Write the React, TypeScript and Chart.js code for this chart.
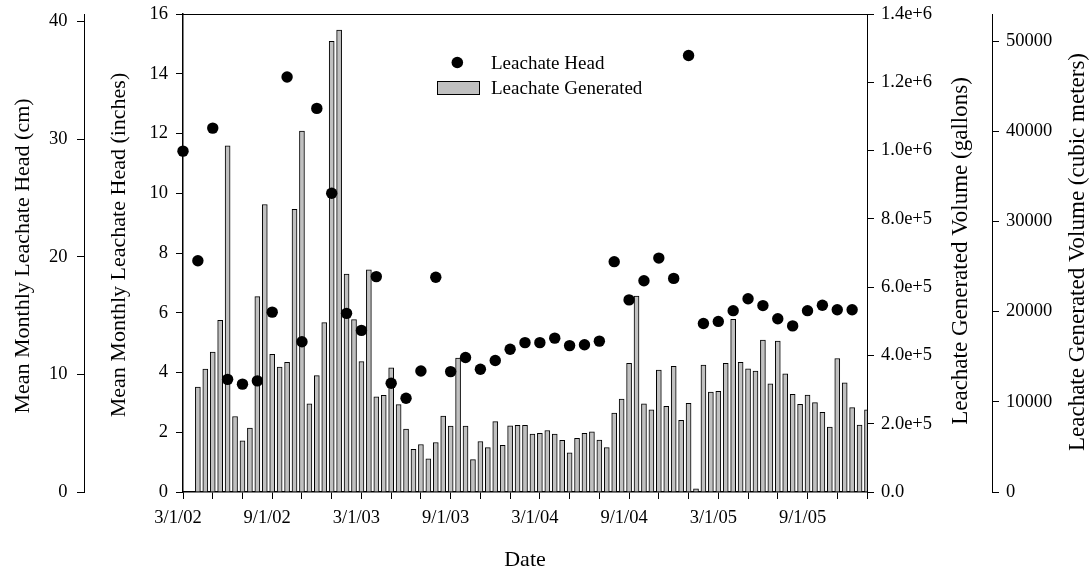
import React, { useEffect, useRef } from 'react';
import { Chart, registerables } from 'chart.js';

Chart.register(...registerables);

// x is measured in months since 3/1/02
const HEAD_START_MONTH = 0; // 3/1/02, monthly
const HEAD_IN = [
  11.41, 7.74, 12.18, 3.77, 3.61, 3.72, 6.02, 13.89, 5.03, 12.84,
  10.0, 5.98, 5.41, 7.21, 3.64, 3.14, 4.05, 7.19, 4.03, 4.5,
  4.11, 4.4, 4.78, 5.0, 5.0, 5.15, 4.9, 4.93, 5.05, 7.71,
  6.43, 7.07, 7.83, 7.15, 14.61, 5.64, 5.71, 6.07, 6.47, 6.24,
  5.8, 5.56, 6.07, 6.25, 6.1, 6.1,
];

const LEACHATE_START_MONTH = 1; // 4/1/02, twice a month
const LEACHATE_STEP = 0.5;
const LEACHATE_GAL = [
  307000, 360000, 410000, 503000, 1014000, 221000, 150000, 187000, 572000, 842000,
  403000, 366000, 380000, 828000, 1057000, 258000, 341000, 496000, 1320000, 1353000,
  638000, 505000, 382000, 651000, 279000, 283000, 364000, 256000, 184000, 125000,
  139000, 97000, 145000, 222000, 193000, 392000, 193000, 95000, 148000, 130000,
  206000, 137000, 194000, 195000, 195000, 170000, 172000, 180000, 170000, 151000,
  115000, 157000, 172000, 176000, 152000, 130000, 231000, 272000, 377000, 574000,
  258000, 241000, 357000, 251000, 368000, 210000, 260000, 9000, 372000, 293000,
  295000, 377000, 506000, 380000, 361000, 354000, 445000, 317000, 442000, 346000,
  286000, 257000, 284000, 262000, 233000, 190000, 391000, 320000, 247000, 196000,
  241000,
];

const X_MAX_MONTH = 46; // 1/1/06
const X_MINOR_STEP = 2;
const X_MAJOR_STEP = 6;
const X_TICK_LABELS = ['3/1/02', '9/1/02', '3/1/03', '9/1/03', '3/1/04', '9/1/04', '3/1/05', '9/1/05'];

const INCH_TICKS = [0, 2, 4, 6, 8, 10, 12, 14, 16];
const CM_TICKS = [0, 10, 20, 30, 40];
const GAL_TICKS = [0, 200000, 400000, 600000, 800000, 1000000, 1200000, 1400000];
const M3_TICKS = [0, 10000, 20000, 30000, 40000, 50000];

const IN_MAX = 16;
const IN_TO_CM = 2.54;
const GAL_MAX = 1400000;
const GAL_TO_M3_AXIS = 0.0378541; // conversion used by the figure's outer axis

const SERIF = '"Liberation Serif", "Times New Roman", serif';
const TICK_FONT = { family: SERIF, size: 18.5 };

function fmtGal(v: number): string {
  if (v === 0) return '0.0';
  const e = Math.floor(Math.log10(v) + 1e-9);
  const m = v / Math.pow(10, e);
  return m.toFixed(1) + 'e+' + e;
}

const setTicks = (arr: number[]) => (s: any) => {
  s.ticks = arr.map((v) => ({ value: v }));
};

const fixWidth = (w: number) => (s: any) => {
  s.width = w;
  s.paddingTop = 0;
  s.paddingBottom = 0;
};

const overlay = {
  id: 'overlay',
  afterDraw(chart: any) {
    const { ctx, chartArea: ca, scales } = chart;
    ctx.save();
    // top frame line
    ctx.strokeStyle = '#000';
    ctx.lineWidth = 1;
    ctx.beginPath();
    ctx.moveTo(ca.left, Math.round(ca.top) + 0.5);
    ctx.lineTo(ca.right, Math.round(ca.top) + 0.5);
    ctx.stroke();

    const rot = (text: string, x: number, y: number, size: number) => {
      ctx.save();
      ctx.translate(x, y);
      ctx.rotate(-Math.PI / 2);
      ctx.font = `${size}px ${SERIF}`;
      ctx.fillStyle = '#000';
      ctx.textAlign = 'center';
      ctx.textBaseline = 'middle';
      ctx.fillText(text, 0, 0);
      ctx.restore();
    };
    rot('Mean Monthly Leachate Head (cm)', scales.yCm.left + 23, ca.top + 242, 22);
    rot('Mean Monthly Leachate Head (inches)', scales.y.left + 35, ca.top + 231, 22);
    rot('Leachate Generated Volume (gallons)', scales.yGal.right - 31, ca.top + 237, 23);
    rot('Leachate Generated Volume (cubic meters)', scales.yM3.right - 11.5, ca.top + 238, 23);

    // legend
    const ds = chart.data.datasets;
    ctx.fillStyle = '#000';
    ctx.beginPath();
    ctx.arc(ca.left + 274.3, ca.top + 48.5, 5.8, 0, Math.PI * 2);
    ctx.fill();
    ctx.fillStyle = '#c0c0c0';
    ctx.fillRect(ca.left + 254, ca.top + 67, 42, 13);
    ctx.strokeStyle = '#000';
    ctx.lineWidth = 1;
    ctx.strokeRect(ca.left + 254 + 0.5, ca.top + 67 + 0.5, 42, 13);
    ctx.fillStyle = '#000';
    ctx.font = `19px ${SERIF}`;
    ctx.textAlign = 'left';
    ctx.textBaseline = 'middle';
    ctx.fillText(ds[0].label, ca.left + 308, ca.top + 49.6);
    ctx.fillText(ds[1].label, ca.left + 308, ca.top + 74.6);
    ctx.restore();
  },
};

export default function App() {
  const ref = useRef<HTMLCanvasElement | null>(null);

  useEffect(() => {
    if (!ref.current) return;
    Chart.defaults.font.family = SERIF;
    Chart.defaults.color = '#000';

    const headData = HEAD_IN.map((v, i) => ({ x: HEAD_START_MONTH + i, y: v }));
    const barData = LEACHATE_GAL.map((v, i) => ({ x: LEACHATE_START_MONTH + i * LEACHATE_STEP, y: v }));
    const xTicks: number[] = [];
    for (let m = 0; m <= X_MAX_MONTH; m += X_MINOR_STEP) xTicks.push(m);

    const axisGrid = { display: true, drawOnChartArea: false, drawTicks: true, tickLength: 7, color: '#000', lineWidth: 1, offset: false };

    const chart = new Chart(ref.current, {
      type: 'bar',
      data: {
        datasets: [
          {
            type: 'scatter',
            label: 'Leachate Head',
            data: headData,
            yAxisID: 'y',
            xAxisID: 'x',
            backgroundColor: '#000',
            borderColor: '#000',
            borderWidth: 0,
            pointRadius: 5.7,
            pointHoverRadius: 5.7,
            showLine: false,
            clip: false,
            order: 0,
          } as any,
          {
            type: 'bar',
            label: 'Leachate Generated',
            data: barData,
            yAxisID: 'yGal',
            xAxisID: 'x',
            backgroundColor: '#c0c0c0',
            borderColor: '#000',
            borderWidth: 1,
            barThickness: 5,
            order: 1,
          } as any,
        ],
      },
      options: {
        animation: false,
        responsive: false,
        devicePixelRatio: 1,
        events: [],
        layout: { padding: { top: 14, left: 0, right: 0, bottom: 0 }, autoPadding: false },
        plugins: { legend: { display: false }, tooltip: { enabled: false } },
        scales: {
          x: {
            type: 'linear',
            position: 'bottom',
            offset: false,
            min: 0,
            max: X_MAX_MONTH,
            bounds: 'data',
            afterBuildTicks: setTicks(xTicks),
            ticks: {
              autoSkip: false,
              maxRotation: 0,
              minRotation: 0,
              padding: 8,
              labelOffset: -5,
              font: TICK_FONT,
              color: '#000',
              callback: (v: any) => (Number(v) % X_MAJOR_STEP === 0 ? X_TICK_LABELS[Number(v) / X_MAJOR_STEP] ?? '' : ''),
            },
            grid: { ...axisGrid, tickLength: 7 },
            border: { display: true, color: '#000', width: 1.5 },
            title: { display: true, text: 'Date', font: { family: SERIF, size: 22 }, color: '#000', padding: { top: 0, bottom: 2 } },
            afterFit: (s: any) => { s.height = 83; s.paddingLeft = 0; s.paddingRight = 0; },
          },
          y: {
            type: 'linear',
            position: 'left',
            weight: 0,
            min: 0,
            max: IN_MAX,
            bounds: 'data',
            afterBuildTicks: setTicks(INCH_TICKS),
            ticks: { padding: 8, font: TICK_FONT, color: '#000', callback: (v: any) => String(v) },
            grid: axisGrid,
            border: { display: true, color: '#000', width: 1.5 },
            afterFit: fixWidth(99),
          },
          yCm: {
            type: 'linear',
            position: 'left',
            weight: 1,
            min: 0,
            max: IN_MAX * IN_TO_CM,
            bounds: 'data',
            afterBuildTicks: setTicks(CM_TICKS),
            ticks: { padding: 9.5, font: TICK_FONT, color: '#000', callback: (v: any) => String(v) },
            grid: axisGrid,
            border: { display: true, color: '#000', width: 1 },
            afterFit: fixWidth(84),
          },
          yGal: {
            type: 'linear',
            position: 'right',
            weight: 0,
            min: 0,
            max: GAL_MAX,
            bounds: 'data',
            afterBuildTicks: setTicks(GAL_TICKS),
            ticks: { padding: 7, font: TICK_FONT, color: '#000', callback: (v: any) => fmtGal(Number(v)) },
            grid: axisGrid,
            border: { display: true, color: '#000', width: 1 },
            afterFit: fixWidth(125),
          },
          yM3: {
            type: 'linear',
            position: 'right',
            weight: 1,
            min: 0,
            max: GAL_MAX * GAL_TO_M3_AXIS,
            bounds: 'data',
            afterBuildTicks: setTicks(M3_TICKS),
            ticks: { padding: 7, font: TICK_FONT, color: '#000', callback: (v: any) => String(v) },
            grid: axisGrid,
            border: { display: true, color: '#000', width: 1 },
            afterFit: fixWidth(97),
          },
        },
      } as any,
      plugins: [overlay],
    });

    return () => chart.destroy();
  }, []);

  return (
    <div style={{ position: 'fixed', left: 0, top: 0, width: 1089, height: 575, background: '#fff' }}>
      <canvas ref={ref} width={1089} height={575} style={{ display: 'block', width: 1089, height: 575 }} />
    </div>
  );
}
